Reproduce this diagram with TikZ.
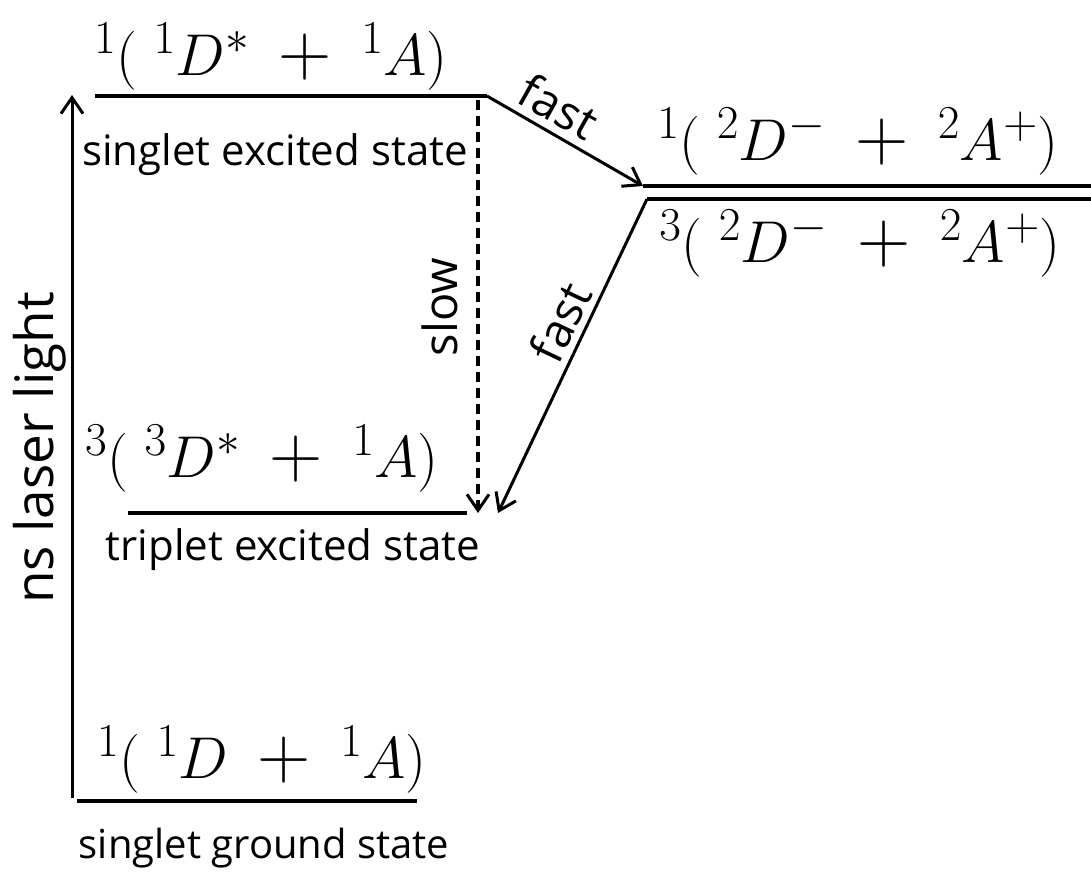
\RequirePackage{fix-cm}
\documentclass[tikz,border=0pt]{standalone}
\usepackage{fontspec}
\setmainfont{Open Sans}
\usetikzlibrary{arrows.meta}
\renewcommand{\defaultscriptratio}{.8}
\newcommand{\bplus}{\mathbin{\scalebox{1.25}{$+$}}}
\tikzset{
  level/.style={line width=4pt},
  trans/.style={line width=3pt,-{Straight Barb[length=16pt,width=22pt,line width=3pt]}},
  slowtrans/.style={line width=3.5pt,dash pattern=on 10pt off 6pt,-{Straight Barb[length=16pt,width=22pt,line width=3pt]}},
  lbl/.style={inner sep=0pt,font=\fontsize{42}{46}\selectfont},
  rlbl/.style={inner sep=0pt,font=\fontsize{47}{50}\selectfont},
  frm/.style={inner sep=0pt,anchor=base,font=\fontsize{59}{64}\selectfont}
}
\begin{document}
\begin{tikzpicture}[x=1pt,y=-1pt]
\useasboundingbox (0,0) rectangle (1091,871);
% level coordinates
\coordinate (L1a) at (95,96);   \coordinate (L1b) at (487,96);
\coordinate (C1a) at (643,186); \coordinate (C1b) at (1091,186);
\coordinate (C3a) at (647,199); \coordinate (C3b) at (1091,199);
\coordinate (T1a) at (128,513); \coordinate (T1b) at (467,513);
\coordinate (G0a) at (77,801);  \coordinate (G0b) at (417,801);
\coordinate (lasB) at (72,798); \coordinate (lasT) at (72,95);
\coordinate (slowA) at (478,100); \coordinate (slowB) at (478,513);
\coordinate (f2end) at (498,513);
% levels
\draw[level] (L1a) -- (L1b);
\draw[level] (C1a) -- (C1b);
\draw[level] (C3a) -- (C3b);
\draw[level] (T1a) -- (T1b);
\draw[level] (G0a) -- (G0b);
% transitions
\draw[trans] (lasB) -- (lasT);
\draw[slowtrans] (slowA) -- (slowB);
\draw[trans] (L1b) -- (C1a);
\draw[trans] (C3a) -- (f2end);
% formulas
\node[frm] (f1) at (271,75) {${}^1(\;{}^1D^*\;\bplus\;{}^1A)$};
\node[frm] (f2) at (858,160) {${}^1(\;{}^2D^-\;\bplus\;{}^2A^+)$};
\node[frm] (f3) at (860,262) {${}^3(\;{}^2D^-\;\bplus\;{}^2A^+)$};
\node[frm] (f4) at (262,477) {${}^3(\;{}^3D^*\;\bplus\;{}^1A)$};
\node[frm] (f5) at (262,778) {${}^1(\;{}^1D\;\bplus\;{}^1A)$};
% labels
\node[lbl] (s1) at (275,155) {singlet excited state};
\node[lbl] (t1) at (293,550) {triplet excited state};
\node[lbl,font=\fontsize{40}{44}\selectfont] (g0) at (264,848) {singlet ground state};
\node[lbl,rotate=90] (ns) at (40,448) {\fontsize{53}{56}\selectfont ns laser light};
\node[rlbl,rotate=90] (sl) at (440,307) {slow};
\node[rlbl,rotate=-29.4] (fa1) at (559,106) {fast};
\node[rlbl,rotate=64.5] (fa2) at (560,322) {fast};
\end{tikzpicture}
\end{document}
